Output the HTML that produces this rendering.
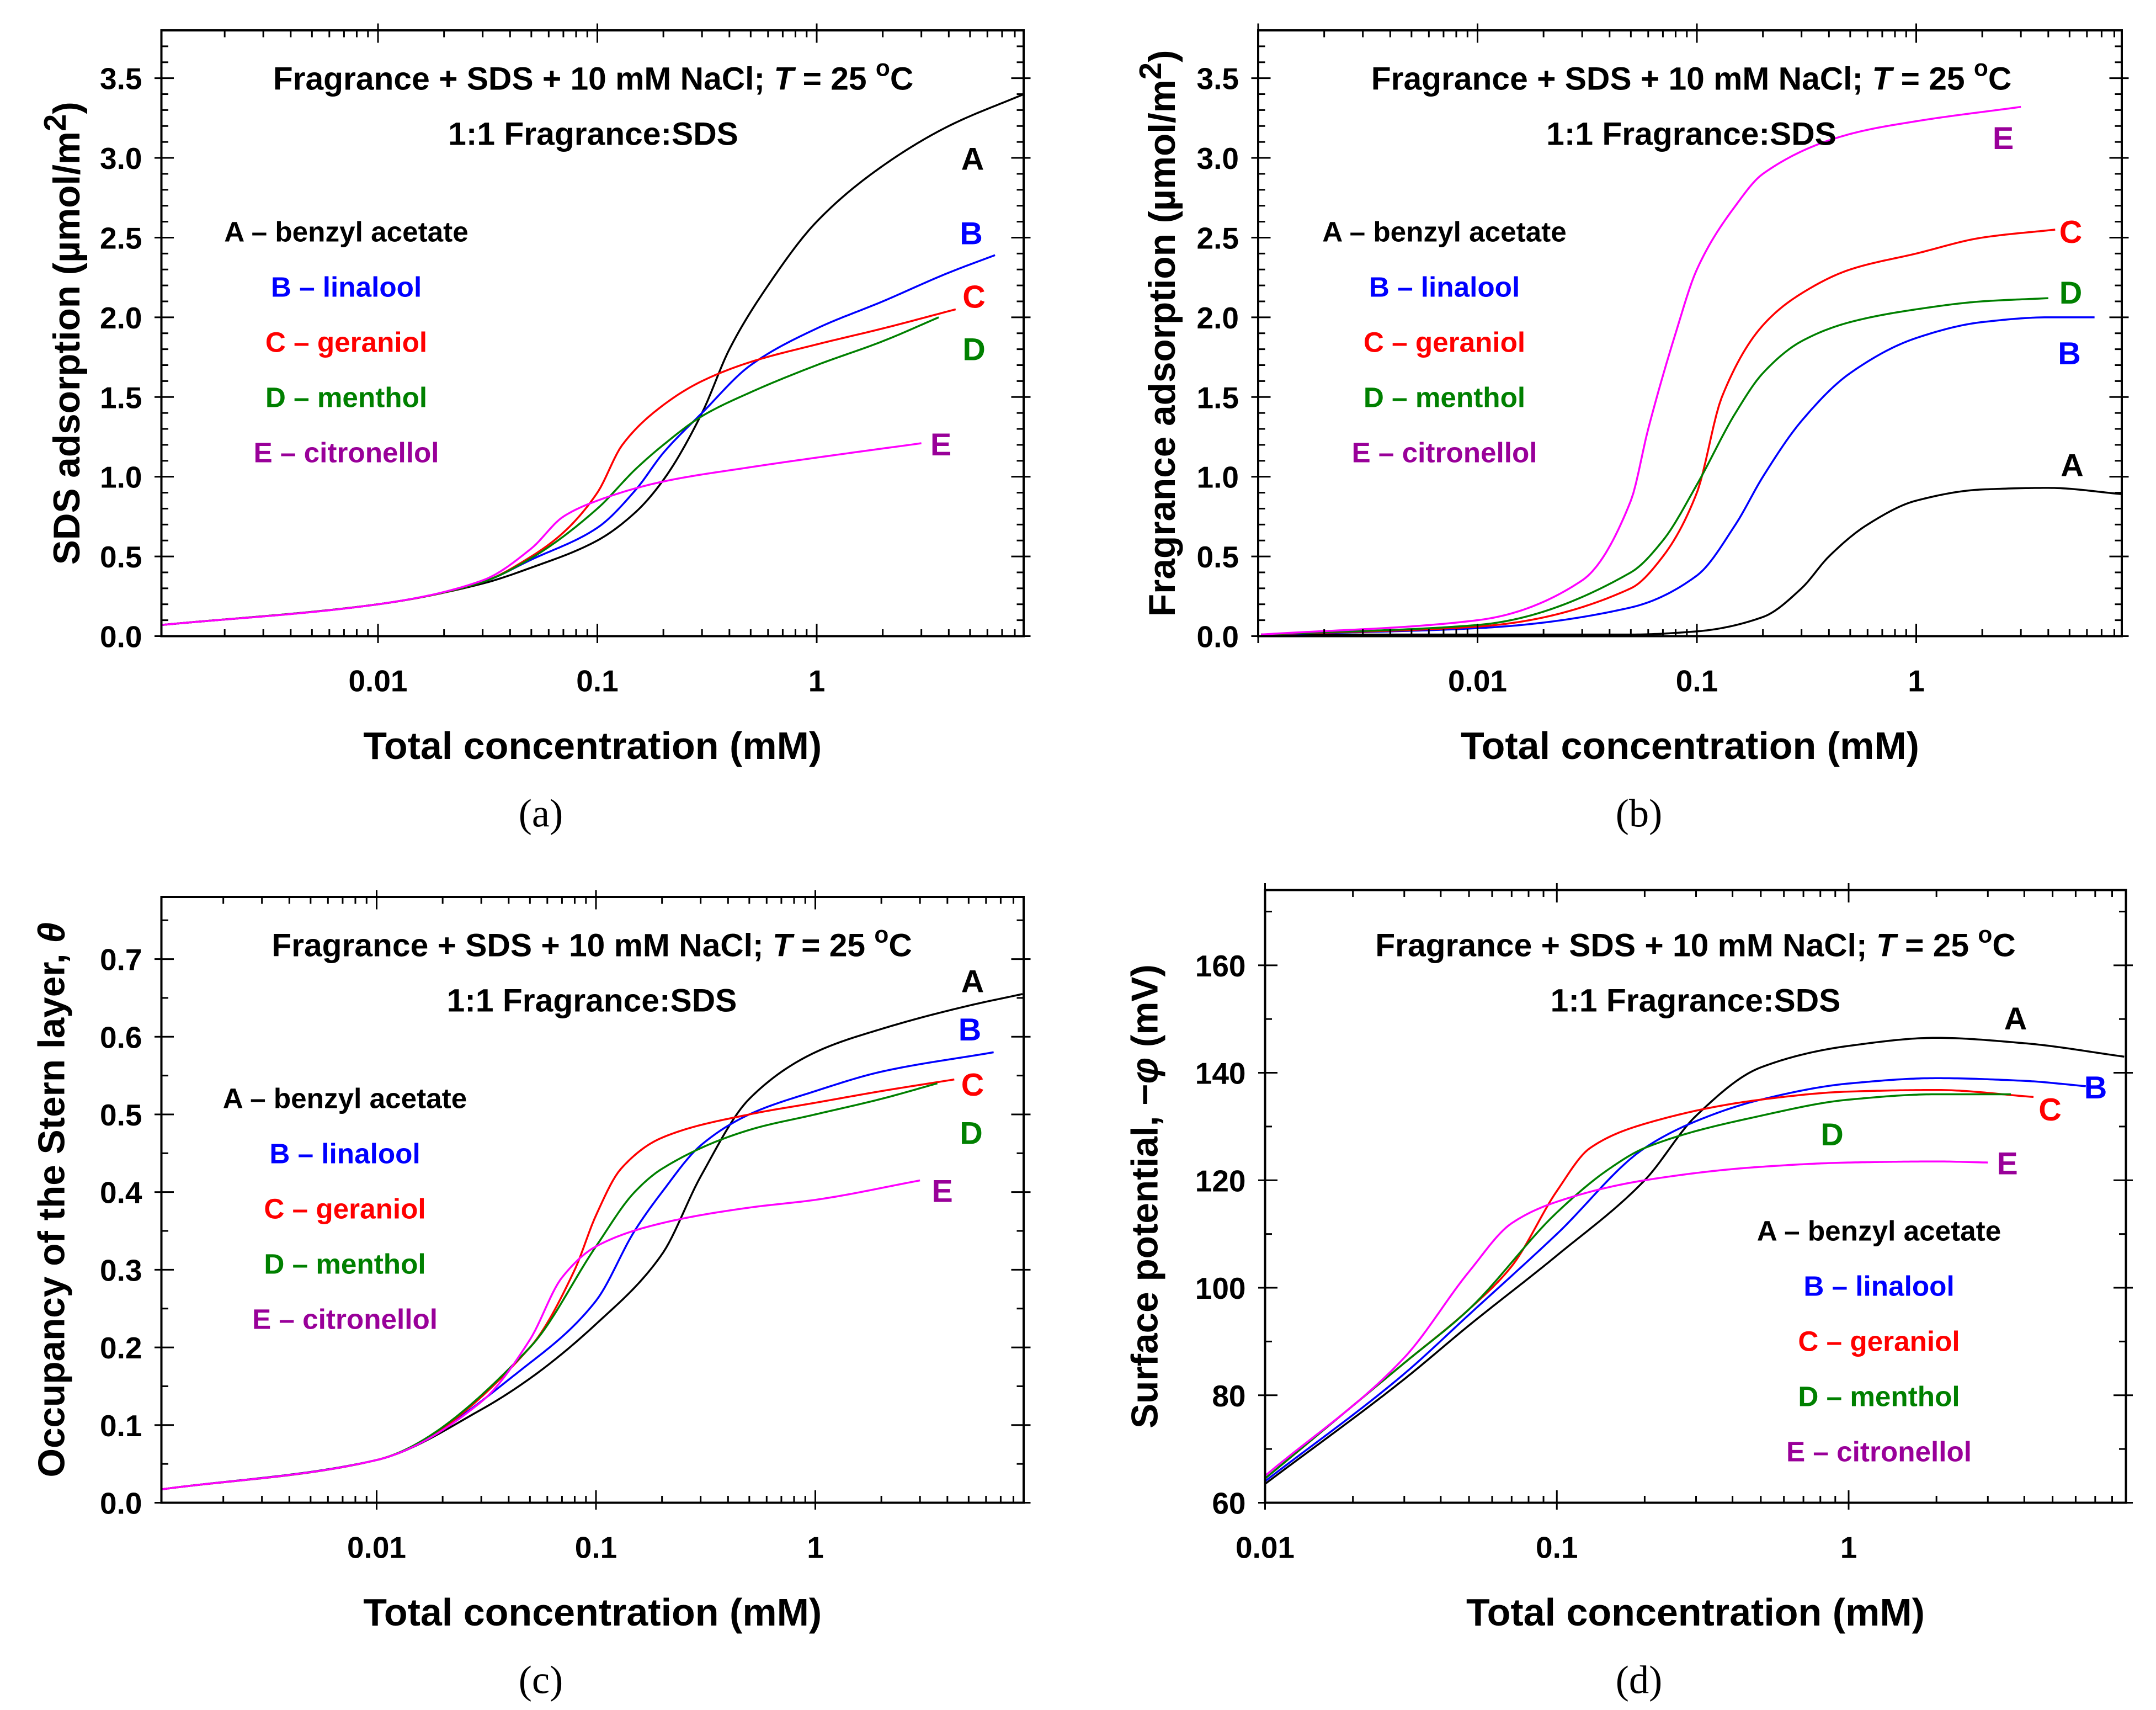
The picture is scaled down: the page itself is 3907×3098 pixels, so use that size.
<!DOCTYPE html>
<html><head><meta charset="utf-8"><style>
html,body{margin:0;padding:0;background:#fff;}
svg{display:block;}
text{font-family:"Liberation Sans",sans-serif;font-weight:bold;}
</style></head><body>
<svg id="fig" width="3907" height="3098" viewBox="0 0 1562.8 1239.2" xmlns="http://www.w3.org/2000/svg"></svg>
<script>
// ---- data (x in mM, y in panel units) ----
const seriesNames = ["A","B","C","D","E"];
const seriesColors = ["#000000","#0000ff","#ff0000","#008000","#ff00ff"];
const labelColors = ["#000000","#0000ff","#ff0000","#008000","#990099"];
const legendText = ["A \u2013 benzyl acetate","B \u2013 linalool","C \u2013 geraniol","D \u2013 menthol","E \u2013 citronellol"];

const aX_A=[0.00103,0.01,0.03,0.05,0.1,0.15,0.2,0.3,0.4,0.6,1,2,4,8.8];
const aY_A=[0.07,0.2,0.33,0.43,0.6,0.78,0.98,1.4,1.8,2.2,2.6,2.95,3.2,3.4];
const aX_B=[0.00103,0.01,0.03,0.05,0.1,0.15,0.2,0.3,0.5,1,2,4,6.5];
const aY_B=[0.07,0.2,0.34,0.48,0.68,0.92,1.15,1.4,1.7,1.93,2.1,2.28,2.39];
const aX_C=[0.00103,0.01,0.03,0.05,0.07,0.1,0.13,0.2,0.3,0.5,1,2,4.3];
const aY_C=[0.07,0.2,0.34,0.5,0.65,0.9,1.2,1.45,1.6,1.72,1.83,1.93,2.05];
const aX_D=[0.00103,0.01,0.03,0.05,0.1,0.15,0.2,0.3,0.5,1,2,3.6];
const aY_D=[0.07,0.2,0.34,0.49,0.8,1.05,1.2,1.38,1.53,1.7,1.85,2.0];
const aX_E=[0.00103,0.01,0.03,0.05,0.07,0.1,0.2,0.5,1,3];
const aY_E=[0.07,0.2,0.35,0.55,0.75,0.85,0.97,1.06,1.12,1.21];

const bX_A=[0.00103,0.05,0.1,0.2,0.3,0.4,0.6,1,2,4,8.8];
const bY_A=[0.01,0.01,0.03,0.12,0.3,0.5,0.7,0.85,0.92,0.93,0.89];
const bX_B=[0.00103,0.01,0.05,0.1,0.15,0.2,0.3,0.5,1,2,4,6.5];
const bY_B=[0.01,0.05,0.18,0.38,0.7,1.0,1.35,1.65,1.87,1.97,2.0,2.0];
const bX_C=[0.00103,0.01,0.05,0.07,0.1,0.13,0.2,0.3,0.5,1,2,4.3];
const bY_C=[0.01,0.06,0.3,0.5,0.9,1.5,1.95,2.15,2.3,2.4,2.5,2.55];
const bX_D=[0.00103,0.01,0.05,0.07,0.1,0.15,0.2,0.3,0.5,1,2,4];
const bY_D=[0.01,0.07,0.4,0.6,0.95,1.4,1.65,1.85,1.97,2.05,2.1,2.12];
const bX_E=[0.00103,0.01,0.03,0.05,0.06,0.08,0.1,0.15,0.2,0.5,1,3];
const bY_E=[0.01,0.1,0.35,0.85,1.3,1.9,2.3,2.7,2.9,3.15,3.23,3.32];

const cX_A=[0.00103,0.01,0.03,0.05,0.1,0.2,0.3,0.5,1,2,5,8.8];
const cY_A=[0.017,0.055,0.12,0.16,0.23,0.32,0.42,0.52,0.58,0.61,0.64,0.655];
const cX_B=[0.00103,0.01,0.05,0.1,0.15,0.2,0.3,0.5,1,2,6.5];
const cY_B=[0.017,0.055,0.18,0.26,0.35,0.4,0.46,0.5,0.53,0.555,0.58];
const cX_C=[0.00103,0.01,0.05,0.08,0.1,0.13,0.2,0.5,1,2,4.3];
const cY_C=[0.017,0.055,0.2,0.3,0.37,0.43,0.47,0.5,0.515,0.53,0.545];
const cX_D=[0.00103,0.01,0.05,0.1,0.15,0.2,0.5,1,2,3.6];
const cY_D=[0.017,0.055,0.2,0.33,0.4,0.43,0.48,0.5,0.52,0.54];
const cX_E=[0.00103,0.01,0.03,0.05,0.07,0.1,0.2,0.5,1,3];
const cY_E=[0.017,0.055,0.13,0.21,0.29,0.33,0.36,0.38,0.39,0.415];

const dX_A=[0.01,0.03,0.05,0.1,0.2,0.3,0.5,1,2,4,8.8];
const dY_A=[63.5,83,93,106,120,132,141,145,146.5,145.5,143];
const dX_B=[0.01,0.03,0.05,0.1,0.2,0.3,0.5,1,2,4,6.5];
const dY_B=[64,84,95,110,126,131,135,138,139,138.5,137.5];
const dX_C=[0.01,0.03,0.05,0.07,0.1,0.13,0.2,0.5,1,2,4.3];
const dY_C=[64.5,86,96,104,118,126,130.5,135,136.5,136.8,135.5];
const dX_D=[0.01,0.03,0.05,0.1,0.15,0.2,0.5,1,2,3.6];
const dY_D=[64.5,86,96,114,122,126,132,135,136,136];
const dX_E=[0.01,0.03,0.05,0.07,0.1,0.2,0.5,1,2,3];
const dY_E=[65,87,103,112,116,120,122.5,123.3,123.5,123.3];

const yTicksA=[0,0.5,1,1.5,2,2.5,3,3.5];
const yTicksC=[0,0.1,0.2,0.3,0.4,0.5,0.6,0.7];
const yTicksD=[60,80,100,120,140,160];
const xTickVals=[0.01,0.1,1];

const NS="http://www.w3.org/2000/svg";
const svg=document.getElementById('fig');
function el(tag,attrs,parent){const e=document.createElementNS(NS,tag);for(const k in attrs)e.setAttribute(k,attrs[k]);(parent||svg).appendChild(e);return e;}

const panels=[
 {id:"a",x0:117,x1:742,y0:22,y1:461,dec0:274,decW:159,ymin:0,ymax:3.8,yt:yTicksA,ym:0.1,fmt:v=>v.toFixed(1),
  xs:[aX_A,aX_B,aX_C,aX_D,aX_E],ys:[aY_A,aY_B,aY_C,aY_D,aY_E],ytitle:"SDS adsorption (\u00b5mol/m<sup>2</sup>)",ytx:40,
  tcx:430,ty:56,lcx:251,ly:168,
  lbl:[[705,115],[704,169],[706,215],[706,253],[682,322]],cap:"(a)",capx:392,capy:590,xlab:493,xtitle:540},
 {id:"b",x0:912,x1:1538,y0:22,y1:461,dec0:1071,decW:159,ymin:0,ymax:3.8,yt:yTicksA,ym:0.1,fmt:v=>v.toFixed(1),
  xs:[bX_A,bX_B,bX_C,bX_D,bX_E],ys:[bY_A,bY_B,bY_C,bY_D,bY_E],ytitle:"Fragrance adsorption (\u00b5mol/m<sup>2</sup>)",ytx:834,
  tcx:1226,ty:56,lcx:1047,ly:168,
  lbl:[[1502,337],[1500,256],[1501,168],[1501,212],[1452,100]],cap:"(b)",capx:1188,capy:590,xlab:493,xtitle:540},
 {id:"c",x0:117,x1:742,y0:650,y1:1089,dec0:273,decW:159,ymin:0,ymax:0.78,yt:yTicksC,ym:0.05,fmt:v=>v.toFixed(1),
  xs:[cX_A,cX_B,cX_C,cX_D,cX_E],ys:[cY_A,cY_B,cY_C,cY_D,cY_E],ytitle:"Occupancy of the Stern layer, <i>\u03b8</i>",ytx:37,
  tcx:429,ty:684,lcx:250,ly:796,
  lbl:[[705,711],[703,746],[705,786],[704,821],[683,863]],cap:"(c)",capx:392,capy:1218,xlab:1121,xtitle:1168},
 {id:"d",x0:917,x1:1541,y0:645,y1:1089,dec0:917,decW:211.5,ymin:60,ymax:174,yt:yTicksD,ym:10,fmt:v=>String(v),
  xs:[dX_A,dX_B,dX_C,dX_D,dX_E],ys:[dY_A,dY_B,dY_C,dY_D,dY_E],ytitle:"Surface potential, \u2212<i>\u03c6</i> (mV)",ytx:830,
  tcx:1229,ty:684,lcx:1362,ly:892,
  lbl:[[1461,738],[1519,788],[1486,804],[1328,822],[1455,843]],cap:"(d)",capx:1188,capy:1218,xlab:1121,xtitle:1168}
];

// monotone cubic (Fritsch-Carlson) in (log10 x, y)
function monotone(xs,ys){
  const n=xs.length,h=[],d=[],m=new Array(n);
  for(let i=0;i<n-1;i++){h.push(xs[i+1]-xs[i]);d.push((ys[i+1]-ys[i])/h[i]);}
  m[0]=d[0];m[n-1]=d[n-2];
  for(let i=1;i<n-1;i++){
    if(d[i-1]*d[i]<=0)m[i]=0;
    else{const w1=2*h[i]+h[i-1],w2=h[i]+2*h[i-1];m[i]=(w1+w2)/(w1/d[i-1]+w2/d[i]);}
  }
  return t=>{
    let i=0;while(i<n-2&&t>xs[i+1])i++;
    const hh=h[i],s=(t-xs[i])/hh,s2=s*s,s3=s2*s;
    return (2*s3-3*s2+1)*ys[i]+(s3-2*s2+s)*hh*m[i]+(-2*s3+3*s2)*ys[i+1]+(s3-s2)*hh*m[i+1];
  };
}

panels.forEach(P=>{
  const g=el('g',{});
  
  
  const sx=v=>P.dec0+P.decW*(Math.log10(v)+2);
  const sy=v=>P.y1-(v-P.ymin)/(P.ymax-P.ymin)*(P.y1-P.y0);
  const clip=el('clipPath',{id:'clip'+P.id},g);
  el('rect',{x:P.x0,y:P.y0,width:P.x1-P.x0,height:P.y1-P.y0},clip);
  P.xs.forEach((xa,i)=>{
    const lx=xa.map(Math.log10);
    const f=monotone(lx,P.ys[i]);
    const a=lx[0],b=lx[lx.length-1],N=300;
    let d="";
    for(let k=0;k<=N;k++){const t=a+(b-a)*k/N;d+=(k?"L":"M")+sx(Math.pow(10,t)).toFixed(2)+","+sy(f(t)).toFixed(2);}
    const p=el('path',{d:d,fill:'none',stroke:seriesColors[i],'stroke-width':1.4,'stroke-linejoin':'round','clip-path':'url(#clip'+P.id+')'},g);
    
    
  });
  const fr=el('rect',{x:P.x0,y:P.y0,width:P.x1-P.x0,height:P.y1-P.y0,fill:'none',stroke:'#000','stroke-width':1.6},g);
  
  
  for(let e=-4;e<=1;e++){
    for(let m=1;m<10;m++){
      const v=m*Math.pow(10,e),x=sx(v);
      if(x<P.x0-0.5||x>P.x1+0.5)continue;
      const L=m===1?9:5;
      el('line',{x1:x,x2:x,y1:P.y1,y2:P.y1-L,stroke:'#000','stroke-width':1.2},g);
      el('line',{x1:x,x2:x,y1:P.y0,y2:P.y0+L,stroke:'#000','stroke-width':1.2},g);
      if(m===1){el('line',{x1:x,x2:x,y1:P.y1,y2:P.y1+5,stroke:'#000','stroke-width':1.2},g);el('line',{x1:x,x2:x,y1:P.y0,y2:P.y0-5,stroke:'#000','stroke-width':1.2},g);}
    }
  }
  xTickVals.forEach(v=>{
    const t=el('text',{x:sx(v),y:P.xlab+8,'font-size':22,'text-anchor':'middle'},g);
    t.textContent=String(v);
    
    
  });
  const nm=Math.floor((P.ymax-P.ymin)/P.ym+1e-9);
  for(let k=0;k<=nm;k++){
    const v=P.ymin+k*P.ym,y=sy(v);
    if(y<P.y0)continue;
    const major=P.yt.some(t=>Math.abs(t-v)<1e-9);
    const L=major?9:5;
    el('line',{x1:P.x0,x2:P.x0+L,y1:y,y2:y,stroke:'#000','stroke-width':1.2},g);
    el('line',{x1:P.x1,x2:P.x1-L,y1:y,y2:y,stroke:'#000','stroke-width':1.2},g);
    if(major){el('line',{x1:P.x0,x2:P.x0-5,y1:y,y2:y,stroke:'#000','stroke-width':1.2},g);el('line',{x1:P.x1,x2:P.x1+5,y1:y,y2:y,stroke:'#000','stroke-width':1.2},g);}
  }
  P.yt.forEach(v=>{
    const t=el('text',{x:P.x0-14,y:sy(v)+8,'font-size':22,'text-anchor':'end'},g);
    t.textContent=P.fmt(v);
    
    
  });
  const xt=el('text',{x:(P.x0+P.x1)/2,y:P.xtitle+10,'font-size':28,'text-anchor':'middle'},g);
  xt.textContent="Total concentration (mM)";
  
  
  const fo=el('foreignObject',{x:P.ytx-220,y:(P.y0+P.y1)/2-20,width:440,height:44,transform:'rotate(-90 '+P.ytx+' '+((P.y0+P.y1)/2)+')'},g);
  fo.innerHTML='<div xmlns="http://www.w3.org/1999/xhtml" style="font:bold 27px \'Liberation Sans\',sans-serif;text-align:center;white-space:nowrap;line-height:40px;">'+P.ytitle+'</div>';
  
  
  const t1=el('text',{x:P.tcx,y:P.ty+9,'font-size':23.5,'text-anchor':'middle'},g);
  t1.innerHTML='Fragrance + SDS + 10 mM NaCl; <tspan font-style="italic">T</tspan> = 25 <tspan dy="-10" font-size="17">o</tspan><tspan dy="10">C</tspan>';
  
  
  const t2=el('text',{x:P.tcx,y:P.ty+49,'font-size':23.5,'text-anchor':'middle'},g);
  t2.textContent='1:1 Fragrance:SDS';
  
  
  legendText.forEach((s,i)=>{
    const t=el('text',{x:P.lcx,y:P.ly+40*i+7,'font-size':20.5,'text-anchor':'middle',fill:labelColors[i]},g);
    t.textContent=s;
    
    
  });
  P.lbl.forEach((p,i)=>{
    const t=el('text',{x:p[0],y:p[1]+8,'font-size':23,'text-anchor':'middle',fill:labelColors[i]},g);
    t.textContent=seriesNames[i];
    
    
  });
  const cap=el('text',{x:P.capx,y:P.capy+9,'font-size':29,'text-anchor':'middle',style:'font-family:"Liberation Serif",serif;font-weight:normal'},g);
  cap.textContent=P.cap;
  
  
});
</script>
</body></html>
